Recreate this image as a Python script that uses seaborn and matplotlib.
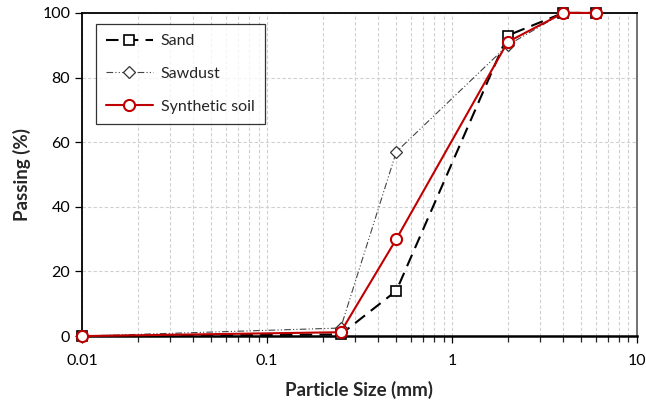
import matplotlib
matplotlib.use("Agg")
import matplotlib.pyplot as plt
import seaborn as sns
import pandas as pd

# Sieve sizes (mm) and percent passing for each material
sizes = [0.01, 0.25, 0.5, 2, 4, 6]
sand = [0, 0.5, 14, 93, 100, 100]
sawdust = [0, 2.5, 57, 90, 100, 100]
synthetic = [0, 1.2, 30, 91, 100, 100]

series_names = ["Sand", "Sawdust", "Synthetic soil"]

sns.set_theme(style="white")
plt.rcParams["font.family"] = ["Lato", "DejaVu Sans"]

df = pd.DataFrame({
    "size": sizes * 3,
    "passing": sand + sawdust + synthetic,
    "material": sum([[n] * len(sizes) for n in series_names], []),
})

fig = plt.figure(figsize=(6.46, 4.03), dpi=100)
ax = fig.add_axes([0.127, 0.166, 0.859, 0.802])

styles = {
    "Sand": dict(color="black", linestyle=(0, (6, 3.5)), linewidth=1.5,
                 marker="s", markersize=7.5, markerfacecolor="white",
                 markeredgecolor="black", markeredgewidth=1.2),
    "Sawdust": dict(color="#444444", linestyle=(0, (6, 2, 1, 2, 1, 2)), linewidth=0.8,
                    marker="D", markersize=6.5, markerfacecolor="white",
                    markeredgecolor="#333333", markeredgewidth=0.9),
    "Synthetic soil": dict(color="#c00000", linestyle="-", linewidth=1.5,
                           marker="o", markersize=8, markerfacecolor="white",
                           markeredgecolor="#c00000", markeredgewidth=1.5),
}

for name in series_names:
    sub = df[df["material"] == name]
    sns.lineplot(data=sub, x="size", y="passing", ax=ax, label=name,
                 estimator=None, sort=False, clip_on=False, zorder=3,
                 **styles[name])

ax.set_xscale("log")
ax.set_xlim(0.01, 10)
ax.set_ylim(0, 100)
ax.set_yticks([0, 20, 40, 60, 80, 100])

ax.grid(True, which="major", axis="both", color="#d0d0d0", linestyle=(0, (3, 2)), linewidth=0.8)
ax.grid(True, which="minor", axis="x", color="#d0d0d0", linestyle=(0, (3, 2)), linewidth=0.8)
ax.set_axisbelow(True)

for side in ["left", "bottom", "top"]:
    ax.spines[side].set_color("black")
    ax.spines[side].set_linewidth(1.3)
ax.spines["right"].set_color("#666666")
ax.spines["right"].set_linewidth(1.3)
ax.spines["bottom"].set_linewidth(1.8)

ax.tick_params(axis="both", which="major", direction="out", length=5, width=0.9,
               labelsize=11.5, colors="black", bottom=True, left=True)
ax.tick_params(axis="x", which="minor", direction="out", length=4, width=0.9, bottom=True)
ax.tick_params(axis="x", pad=8)
ax.set_xticks([0.01, 0.1, 1, 10])
ax.set_xticklabels(["0.01", "0.1", "1", "10"])

ax.set_xlabel("Particle Size (mm)", fontsize=13.5, fontweight="bold", labelpad=9)
ax.set_ylabel("Passing (%)", fontsize=13.5, fontweight="bold", labelpad=8)

leg = ax.legend(loc="upper left", bbox_to_anchor=(0.025, 0.966), borderaxespad=0,
                fontsize=11.5, frameon=True, fancybox=False, edgecolor="black",
                handlelength=2.9, labelspacing=1.15, borderpad=0.65, handletextpad=0.5)
leg.get_frame().set_linewidth(0.9)

fig.savefig("out.png", dpi=100)
